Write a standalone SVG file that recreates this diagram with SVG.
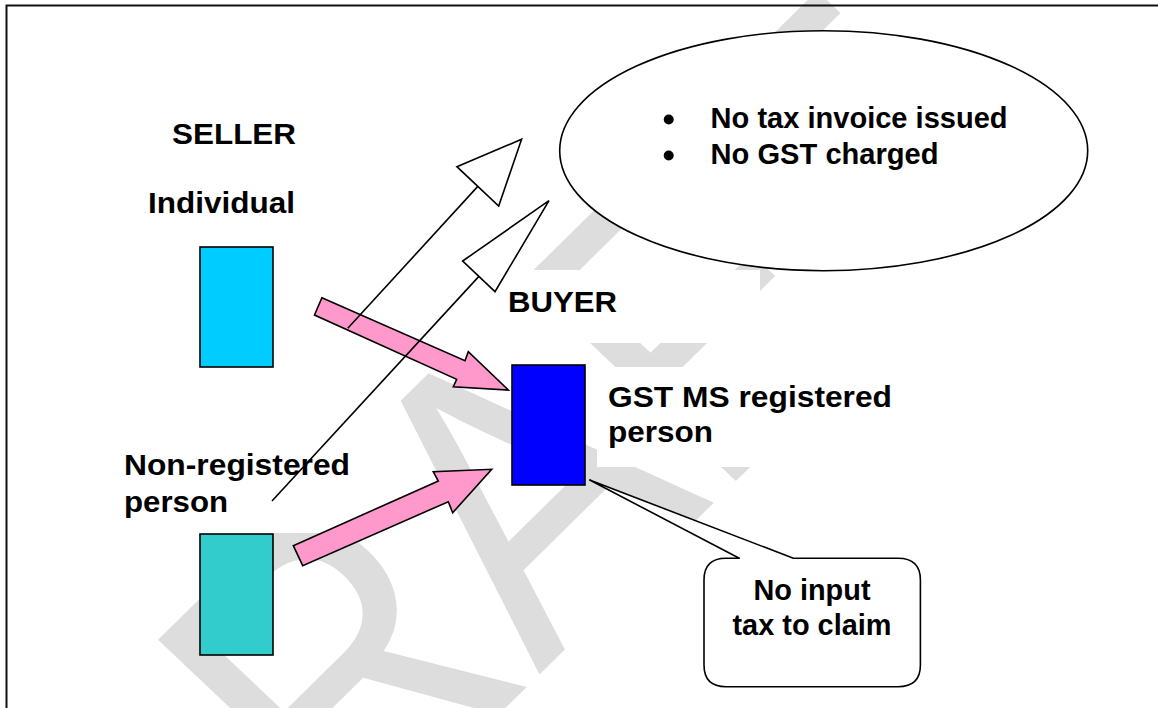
<svg xmlns="http://www.w3.org/2000/svg" width="1158" height="708" viewBox="0 0 1158 708">
<defs>
<style>
.lbl{font-family:"Liberation Sans",Arial,sans-serif;font-weight:bold;font-size:30px;fill:#000}
.wm{font-family:"Liberation Sans",Arial,sans-serif;font-size:100px;fill:#dddddd}
.box{fill:#fff;stroke:none}
.blk{stroke:#000;stroke-width:1.6}
.pink{fill:#ff99cc;stroke:#000;stroke-width:1.6;stroke-linejoin:miter}
.hd{fill:#fff;stroke:#000;stroke-width:1.6;stroke-linejoin:miter}
</style>
</defs>
<rect width="1158" height="708" fill="#fff"/>
<g id="watermark">
<text class="wm" transform="matrix(2.63,-2.59,3.09,2.92,159.1,1049)" x="0" y="0">DRAFT</text>
</g>
<g id="frame">
<path d="M6.5,708 V5.5 H1158" fill="none" stroke="#111" stroke-width="2"/>
</g>
<g id="seller-title"><text class="lbl" x="172" y="144" textLength="124" lengthAdjust="spacingAndGlyphs">SELLER</text></g>
<g id="individual-label"><text class="lbl" x="148" y="213" textLength="147" lengthAdjust="spacingAndGlyphs">Individual</text></g>
<g id="nonreg-label">
<rect class="box" x="110" y="440" width="250" height="93"/>
<text class="lbl" x="124" y="475" textLength="226" lengthAdjust="spacingAndGlyphs">Non-registered</text>
<text class="lbl" x="124" y="512" textLength="104" lengthAdjust="spacingAndGlyphs">person</text>
</g>
<g id="buyer-title">
<rect class="box" x="500" y="270" width="260" height="73"/>
<text class="lbl" x="508" y="312" textLength="109" lengthAdjust="spacingAndGlyphs">BUYER</text>
</g>
<g id="buyer-label">
<rect class="box" x="597" y="367" width="310" height="100"/>
<text class="lbl" x="608" y="407" textLength="284" lengthAdjust="spacingAndGlyphs">GST MS registered</text>
<text class="lbl" x="608" y="442" textLength="105" lengthAdjust="spacingAndGlyphs">person</text>
</g>
<g id="note-ellipse">
<rect class="box" x="860" y="200" width="180" height="110"/>
<ellipse cx="823.7" cy="150.7" rx="264" ry="120" fill="#fff" stroke="#000" stroke-width="1.6"/>
<circle cx="668.7" cy="119.5" r="5" fill="#000"/>
<circle cx="668.7" cy="155.5" r="5" fill="#000"/>
<text class="lbl" x="710.6" y="128.3" textLength="297" lengthAdjust="spacingAndGlyphs">No tax invoice issued</text>
<text class="lbl" x="710.6" y="164.3" textLength="228" lengthAdjust="spacingAndGlyphs">No GST charged</text>
</g>
<g id="individual-seller"><rect x="200" y="247" width="73" height="120" fill="#00ccff" class="blk"/></g>
<g id="nonreg-seller"><rect x="200" y="534" width="73" height="121" fill="#33cccc" class="blk"/></g>
<g id="buyer"><rect x="512" y="365" width="73" height="120" fill="#0000ff" class="blk"/></g>
<g id="callout">
<path d="M739.3,558.3 L589.7,480 L793.4,558.3 H898 Q920.4,558.3 920.4,580 V665 Q920.4,686.7 898,686.7 H726 Q704,686.7 704,665 V580 Q704,558.3 726,558.3 Z" fill="#fff" stroke="#000" stroke-width="1.6" stroke-linejoin="round"/>
<text class="lbl" x="812" y="600" text-anchor="middle" textLength="117" lengthAdjust="spacingAndGlyphs" font-size="29">No input</text>
<text class="lbl" x="812" y="635" text-anchor="middle" textLength="159" lengthAdjust="spacingAndGlyphs" font-size="29">tax to claim</text>
</g>
<g id="connectors">
<polygon class="pink" points="321.9,297.7 465,360.7 468.3,351.7 508.3,390 453.3,386.7 456.7,379.3 314.5,315"/>
<polygon class="pink" points="293.3,545.7 438.3,481 433.3,471.7 491.7,469.3 452.7,512.7 448.3,501.7 302.7,565.7"/>
<line x1="347.8" y1="328.3" x2="477.8" y2="186.4" class="blk"/>
<polygon class="hd" points="456.9,166.7 521.6,139.3 498.7,206"/>
<line x1="272" y1="501" x2="478.9" y2="276.4" class="blk"/>
<polygon class="hd" points="462.7,261 549,200.7 495,291.7"/>
</g>
</svg>
